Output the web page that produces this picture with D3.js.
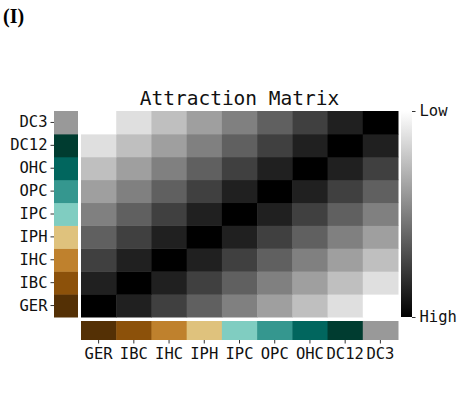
<!DOCTYPE html>
<html>
<head>
<meta charset="utf-8">
<script src="https://cdn.jsdelivr.net/npm/d3@7"></script>
<style>
  body { margin: 0; background: #fff; }
  text { font-family: "DejaVu Sans Mono", monospace; fill: #111; }
  .domain { display: none; }
</style>
</head>
<body>
<div class="canvas"></div>
<script>
const cells = ['GER', 'IBC', 'IHC', 'IPH', 'IPC', 'OPC', 'OHC', 'DC12', 'DC3'];
const cellColours = ['#543005', '#8c510a', '#bf812d', '#dfc27d', '#80cdc1', '#35978f', '#01665e', '#003c30', '#999999'];

// attraction, rows GER..DC3, columns GER..DC3
const attraction = [
  [8, 7, 6, 5, 4, 3, 2, 1, 0],
  [7, 8, 7, 6, 5, 4, 3, 2, 1],
  [6, 7, 8, 7, 6, 5, 4, 3, 2],
  [5, 6, 7, 8, 7, 6, 5, 4, 3],
  [4, 5, 6, 7, 8, 7, 6, 5, 4],
  [3, 4, 5, 6, 7, 8, 7, 6, 5],
  [2, 3, 4, 5, 6, 7, 8, 7, 6],
  [1, 2, 3, 4, 5, 6, 7, 8, 7],
  [0, 1, 2, 3, 4, 5, 6, 7, 8]
];
const scaleTicks = [{v: 0, label: 'Low'}, {v: 8, label: 'High'}];

const dims = {width: 469, height: 403};
const svg = d3.select('.canvas')
    .append('svg')
    .attr('width', dims.width)
    .attr('height', dims.height);

const x = d3.scaleBand().domain(cells).range([81, 398]);
const y = d3.scaleBand().domain(cells.slice().reverse()).range([111, 317]);
const grey = d3.scaleLinear().domain([0, 8]).range(['#ffffff', '#000000']);
const colour = d3.scaleOrdinal().domain(cells).range(cellColours);

// panel letter
svg.append('text')
    .attr('x', 3).attr('y', 23)
    .style('font-family', '"Liberation Serif", serif')
    .style('font-weight', 'bold')
    .style('font-size', '20px')
    .style('fill', '#000')
    .text('(I)');

// title
svg.append('text')
    .attr('x', (81 + 398) / 2).attr('y', 105)
    .attr('text-anchor', 'middle')
    .style('font-size', '19.5px')
    .text('Attraction Matrix');

// heatmap
const flat = [];
attraction.forEach((row, i) => row.forEach((v, j) => flat.push({r: cells[i], c: cells[j], v})));

svg.append('g').selectAll('rect')
    .data(flat)
    .enter()
    .append('rect')
    .attr('x', d => x(d.c))
    .attr('y', d => y(d.r))
    .attr('width', x.bandwidth() + 0.5)
    .attr('height', y.bandwidth() + 0.5)
    .attr('fill', d => grey(d.v));

// side colour strip
svg.append('g').selectAll('rect')
    .data(cells)
    .enter()
    .append('rect')
    .attr('x', 54)
    .attr('y', d => y(d))
    .attr('width', 24)
    .attr('height', y.bandwidth() + 0.5)
    .attr('fill', d => colour(d));

// bottom colour strip
svg.append('g').selectAll('rect')
    .data(cells)
    .enter()
    .append('rect')
    .attr('x', d => x(d))
    .attr('y', 321)
    .attr('width', x.bandwidth() + 0.5)
    .attr('height', 19)
    .attr('fill', d => colour(d));

// axes
const left = svg.append('g')
    .attr('transform', 'translate(54,0)')
    .call(d3.axisLeft(y).tickSize(3.5).tickPadding(3));
const bottom = svg.append('g')
    .attr('transform', 'translate(0,340)')
    .call(d3.axisBottom(x).tickSize(3.5).tickPadding(4));
[left, bottom].forEach(g => {
    g.selectAll('text').style('font-size', '15.5px').attr('fill', '#111');
    g.selectAll('line').attr('stroke', '#333');
});

// colour bar
const defs = svg.append('defs');
const grad = defs.append('linearGradient')
    .attr('id', 'cbar')
    .attr('x1', 0).attr('y1', 0).attr('x2', 0).attr('y2', 1);
grad.append('stop').attr('offset', '0%').attr('stop-color', grey(0));
grad.append('stop').attr('offset', '100%').attr('stop-color', grey(8));

const cb = d3.scaleLinear().domain([0, 8]).range([111, 317]);
svg.append('rect')
    .attr('x', 401).attr('y', 111)
    .attr('width', 11).attr('height', 206)
    .attr('fill', 'url(#cbar)');

const right = svg.append('g')
    .attr('transform', 'translate(412,0)')
    .call(d3.axisRight(cb)
        .tickValues(scaleTicks.map(d => d.v))
        .tickFormat((d, i) => scaleTicks[i].label)
        .tickSize(3.5).tickPadding(4));
right.selectAll('text').style('font-size', '15.5px').attr('fill', '#111');
right.selectAll('line').attr('stroke', '#333');
</script>
</body>
</html>
